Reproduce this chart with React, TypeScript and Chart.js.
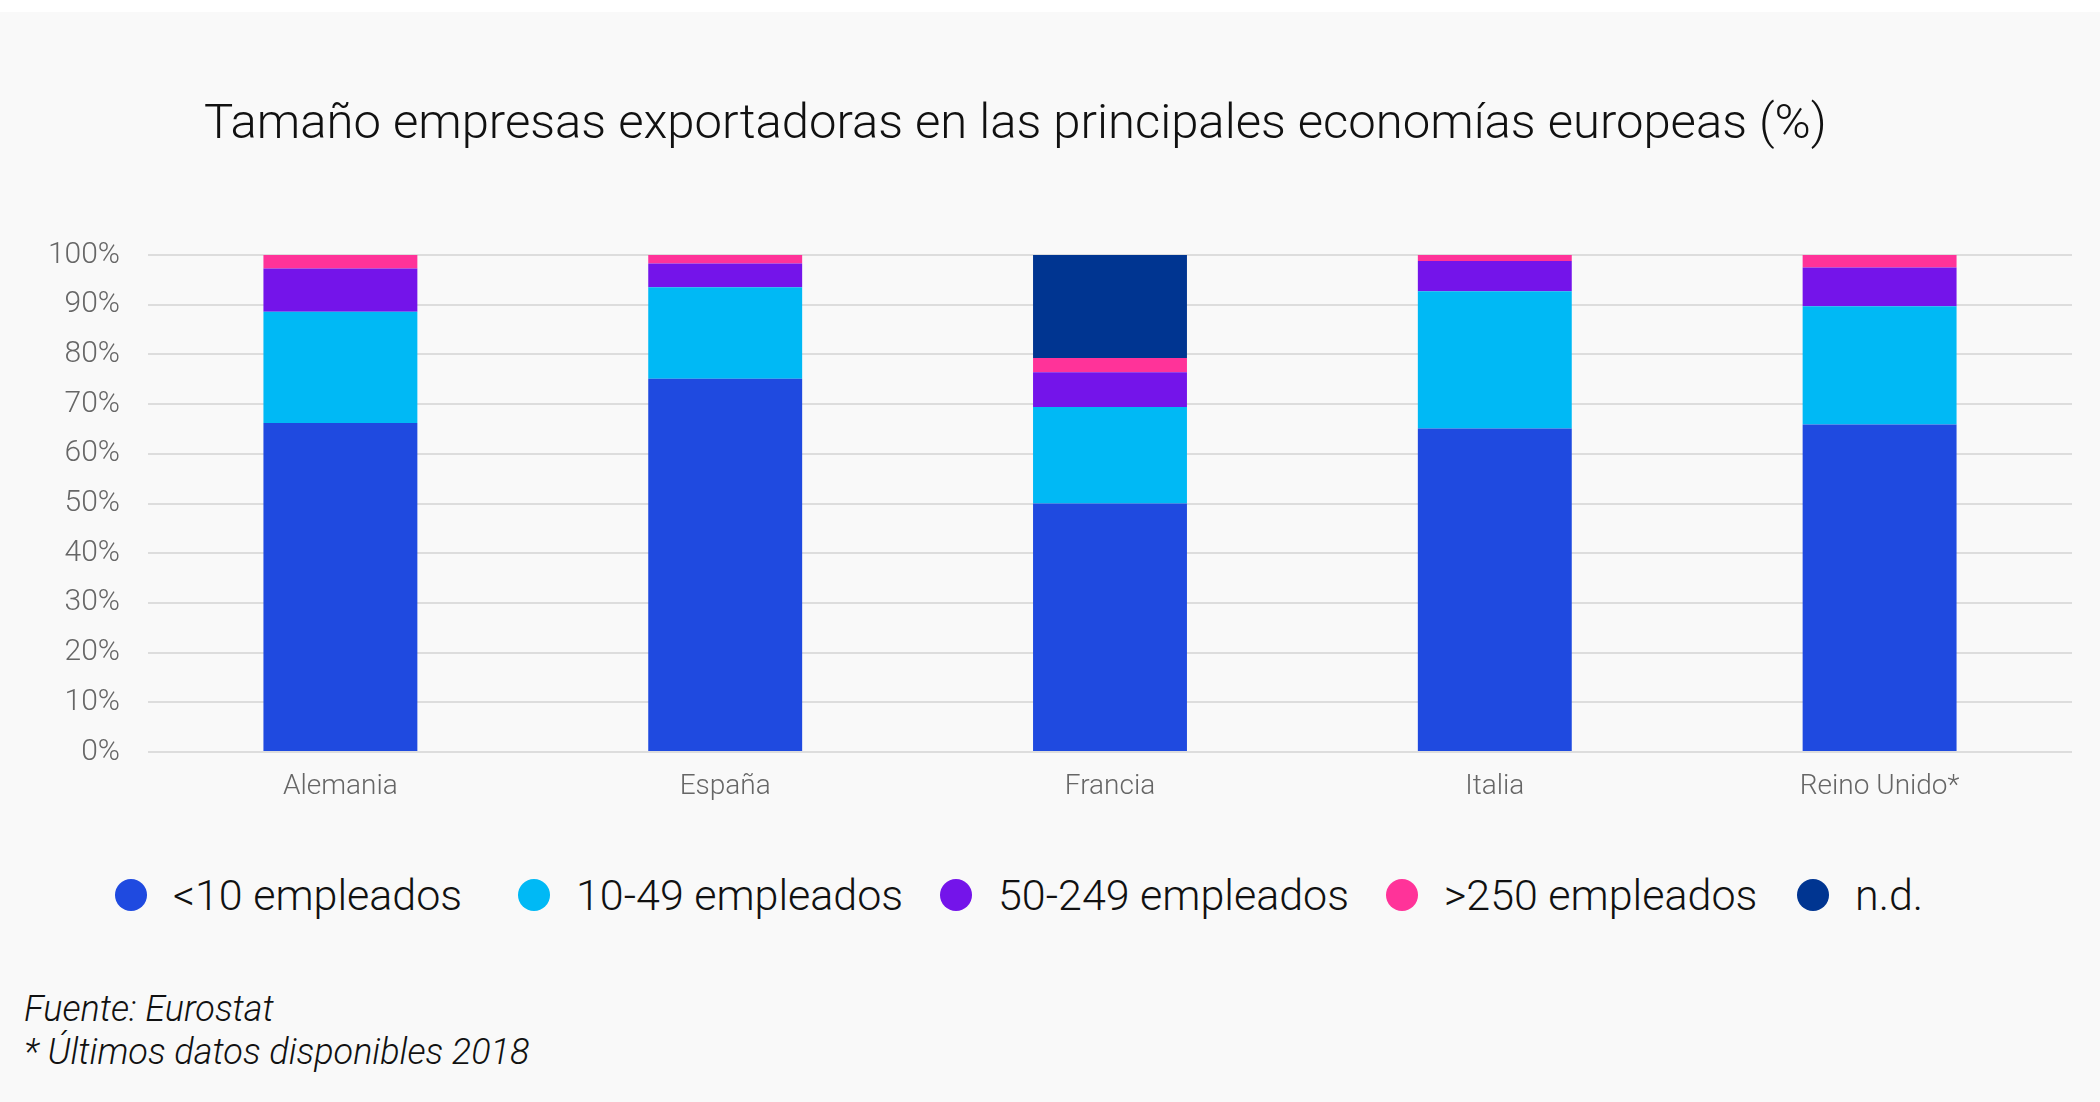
import React, { useEffect, useRef } from "react";
import { Chart, registerables } from "chart.js";

Chart.register(...registerables);

const TITLE = "Tamaño empresas exportadoras en las principales economías europeas (%)";
const CATEGORIES = ["Alemania", "España", "Francia", "Italia", "Reino Unido*"];
const SERIES_LABELS = ["<10 empleados", "10-49 empleados", "50-249 empleados", ">250 empleados", "n.d."];
const MENOS_10 = [66.2, 75.1, 50.0, 65.1, 65.9];
const DE_10_49 = [22.4, 18.4, 19.4, 27.6, 23.8];
const DE_50_249 = [8.7, 4.8, 7.0, 6.1, 7.8];
const MAS_250 = [2.7, 1.7, 2.9, 1.2, 2.5];
const ND = [0, 0, 20.7, 0, 0];
const Y_TICK_VALUES = [0, 10, 20, 30, 40, 50, 60, 70, 80, 90, 100];
const FOOTNOTES = ["Fuente: Eurostat", "* Últimos datos disponibles 2018"];

const COLORS = ["#1f4ae0", "#00b9f5", "#7414ea", "#ff3399", "#003591"];
const LEGEND_LEFT = [115, 518, 940, 1386, 1797];
const FONT = "Roboto, 'Helvetica Neue', Arial, sans-serif";

export default function App() {
  const canvasRef = useRef<HTMLCanvasElement | null>(null);

  useEffect(() => {
    document.body.style.margin = "0";
    const canvas = canvasRef.current;
    if (!canvas) return;
    const seriesValues = [MENOS_10, DE_10_49, DE_50_249, MAS_250, ND];
    const chart = new Chart(canvas, {
      type: "bar",
      data: {
        labels: CATEGORIES,
        datasets: SERIES_LABELS.map((label, i) => ({
          label,
          data: seriesValues[i],
          backgroundColor: COLORS[i],
          borderWidth: 0,
          categoryPercentage: 0.8,
          barPercentage: 0.5,
        })),
      },
      options: {
        responsive: false,
        animation: false,
        devicePixelRatio: 1,
        layout: { padding: { left: 0, right: 28, top: 0, bottom: 0 } },
        plugins: {
          legend: { display: false },
          title: { display: false },
          tooltip: { enabled: false },
        },
        scales: {
          x: {
            stacked: true,
            grid: { display: false, drawTicks: false },
            border: { display: false },
            ticks: {
              color: "#666666",
              font: { family: FONT, size: 28, weight: "300" },
              padding: 18,
            },
            afterFit: (scale: any) => {
              scale.height = 78;
            },
          },
          y: {
            stacked: true,
            min: 0,
            max: 100,
            afterBuildTicks: (scale: any) => {
              scale.ticks = Y_TICK_VALUES.map((v) => ({ value: v }));
            },
            grid: { color: "#dddddd", lineWidth: 2, drawTicks: false },
            border: { display: false },
            ticks: {
              color: "#666666",
              font: { family: FONT, size: 30, weight: "300" },
              padding: 28,
              callback: (v: any) => `${v}%`,
            },
            afterFit: (scale: any) => {
              scale.width = 148;
            },
          },
        },
      },
    });
    return () => chart.destroy();
  }, []);

  return (
    <div
      style={{
        position: "fixed",
        left: 0,
        top: 0,
        width: 2100,
        height: 1102,
        background: "#ffffff",
        overflow: "hidden",
        fontFamily: FONT,
      }}
    >
      <div
        style={{
          position: "absolute",
          left: 0,
          top: 12,
          width: 2100,
          height: 1090,
          background: "#f9f9f9",
        }}
      />
      <div
        style={{
          position: "absolute",
          left: 204,
          top: 98,
          fontSize: 49,
          lineHeight: "48px",
          fontWeight: 300,
          color: "#111111",
          whiteSpace: "nowrap",
        }}
      >
        {TITLE}
      </div>
      <div style={{ position: "absolute", left: 0, top: 209, width: 2100, height: 621 }}>
        <canvas
          ref={canvasRef}
          width={2100}
          height={621}
          style={{ display: "block", width: 2100, height: 621 }}
        />
      </div>
      {SERIES_LABELS.map((label, i) => (
        <div
          key={label}
          style={{
            position: "absolute",
            left: LEGEND_LEFT[i],
            top: 870,
            height: 50,
            display: "flex",
            alignItems: "center",
            whiteSpace: "nowrap",
          }}
        >
          <span
            style={{
              display: "inline-block",
              width: 32,
              height: 32,
              borderRadius: "50%",
              background: COLORS[i],
              marginRight: 26,
            }}
          />
          <span style={{ fontSize: 43, fontWeight: 300, color: "#111111", lineHeight: "50px" }}>{label}</span>
        </div>
      ))}
      <div
        style={{
          position: "absolute",
          left: 24,
          top: 988,
          fontSize: 36,
          lineHeight: "43px",
          fontStyle: "italic",
          fontWeight: 300,
          color: "#111111",
          whiteSpace: "nowrap",
        }}
      >
        {FOOTNOTES.map((t) => (
          <div key={t}>{t}</div>
        ))}
      </div>
    </div>
  );
}
